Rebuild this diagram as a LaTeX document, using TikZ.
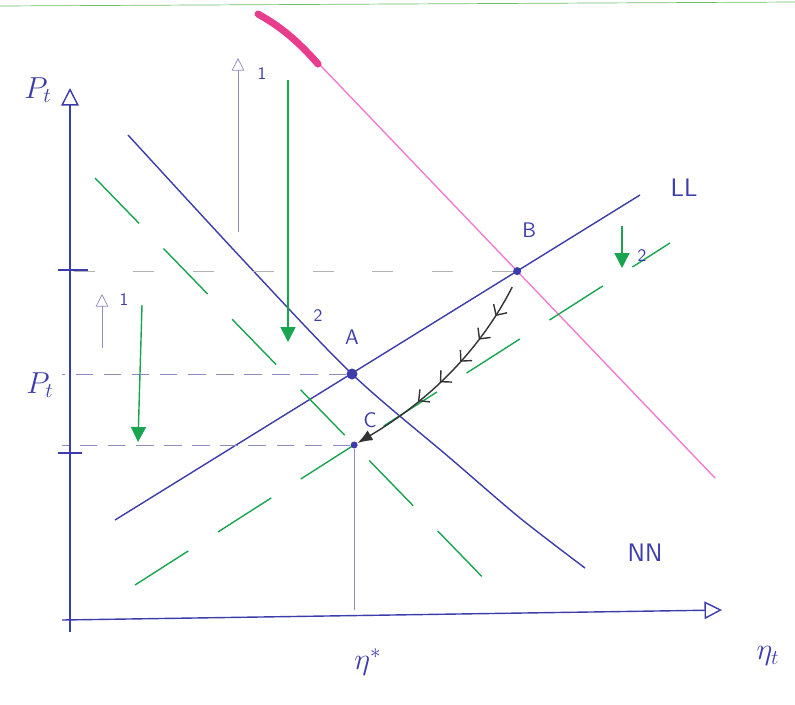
\documentclass[tikz,border=0pt]{standalone}
\usepackage{tikz}
\usetikzlibrary{arrows.meta,positioning,calc,decorations.markings}
\definecolor{inkblue}{RGB}{60,60,170}
\definecolor{inkgreen}{RGB}{25,165,80}
\definecolor{inkpink}{RGB}{240,125,210}
\definecolor{inkmagenta}{RGB}{232,60,140}
\definecolor{rulegreen}{RGB}{110,190,110}
\definecolor{guidegrey}{RGB}{140,140,190}

\begin{document}
\begin{tikzpicture}[
  x=0.02cm, y=-0.02cm, >=Latex,
  ax/.style={draw=inkblue, thick, -{Triangle[open,length=3.5mm,width=3.5mm]}},
  curve/.style={draw=inkblue, thick},
  shifted/.style={draw=inkgreen, thick, dash pattern=on 36pt off 20pt},
  guide/.style={draw=guidegrey, dash pattern=on 10pt off 6pt},
  pt/.style={circle, fill=inkblue, inner sep=0pt, minimum size=2.2mm},
  lbl/.style={text=inkblue, font=\sffamily\large, inner sep=1pt},
  axlbl/.style={text=inkblue, font=\LARGE},
  rise/.style={draw=guidegrey, -{Triangle[open,length=2.5mm,width=2.5mm]}},
  fall/.style={draw=inkgreen, thick, -{Triangle[length=3mm,width=3mm]}},
  path/.style={draw=black!80, thick, -{Latex[length=3mm]},
    postaction={decorate, decoration={markings,
      mark=between positions 0.15 and 0.8 step 0.13 with {\arrow{Straight Barb[length=1.6mm]}}}}}]
\useasboundingbox (0,0) rectangle (795,704);
\draw[rulegreen] (0,6) -- (795,2);

% axes
\coordinate (ybot) at (70,632);
\coordinate (ytop) at (70,88);
\coordinate (xbeg) at (62,620);
\coordinate (xend) at (722,610);
\draw[ax] (ybot) -- (ytop);
\draw[ax] (xbeg) -- (xend);
\node[axlbl] (ylab) at (38,90) {$P_t$};
\node[axlbl] (xlab) at (768,656) {$\eta_t$};

% curves
\coordinate (LL0) at (115,520);
\coordinate (LL1) at (640,195);
\coordinate (PP0) at (300,44);
\coordinate (PP1) at (715,478);
\coordinate (GL0) at (135,585);
\coordinate (GL1) at (670,243);
\coordinate (GN0) at (95,178);
\coordinate (GN1) at (495,590);
\draw[curve] (LL0) -- (LL1);
\draw[curve] plot[smooth] coordinates {(128,135) (245,262) (352,374) (450,458) (520,518) (585,568)};
\draw[inkpink, thick] (PP0) -- (PP1);
\draw[inkmagenta, line width=4pt, line cap=round] (258,14) .. controls (272,22) and (292,34) .. (318,64);
\draw[shifted] (GL0) -- (GL1);
\draw[shifted] (GN0) -- (GN1);

\node[pt] (A) at (352,374) {};
\node[pt, minimum size=1.6mm] (B) at (intersection of LL0--LL1 and PP0--PP1) {};
\node[pt, minimum size=1.4mm] (C) at (intersection of GL0--GL1 and GN0--GN1) {};
\node[lbl, above=12pt of A] (Alab) {A};
\node[lbl, above right=16pt and 0pt of B] (Blab) {B};
\node[lbl] (Clab) at (370,420) {C};
\node[lbl, font=\sffamily\Large] (LLlab) at (684,188) {LL};
\node[lbl, font=\sffamily\Large] (NNlab) at (645,553) {NN};

% guides
\draw[guide] (A) -- (A -| xbeg);
\draw[guide] (C) -- (C -| xbeg);
\draw[guide, draw=gray!60, dash pattern=on 12pt off 22pt] (B) -- (B -| xbeg);
\draw[guidegrey] (C) -- (C |- xend);
\draw[inkblue, thick] (58,270) -- (88,270);
\draw[inkblue, thick] (58,453) -- (82,453);
\node[axlbl] (pstar) at (40,385) {$P_t$};
\node[axlbl] (estar) at (368,662) {$\eta^{*}$};

% adjustments
\coordinate (r1s) at (238,232);
\coordinate (r1e) at (238,58);
\coordinate (f1s) at (288,80);
\coordinate (f1e) at (288,342);
\coordinate (r2s) at (102,348);
\coordinate (r2e) at (102,294);
\coordinate (f2s) at (142,305);
\coordinate (f2e) at (138,442);
\coordinate (f3s) at (622,226);
\coordinate (f3e) at (622,268);
\draw[rise] (r1s) -- (r1e);
\draw[fall] (f1s) -- (f1e);
\draw[rise] (r2s) -- (r2e);
\draw[fall] (f2s) -- (f2e);
\draw[fall] (f3s) -- (f3e);
\node[lbl, font=\sffamily] (n1) at (262,74) {1};
\node[lbl, font=\sffamily] (n2) at (318,316) {2};
\node[lbl, font=\sffamily] (n3) at (124,300) {1};
\node[lbl, font=\sffamily] (n4) at (642,256) {2};

\coordinate (Bfrom) at ($(B)+(-5,16)$);
\draw[path] (Bfrom) .. controls (480,350) and (430,400) .. (C);
\end{tikzpicture}
\end{document}
